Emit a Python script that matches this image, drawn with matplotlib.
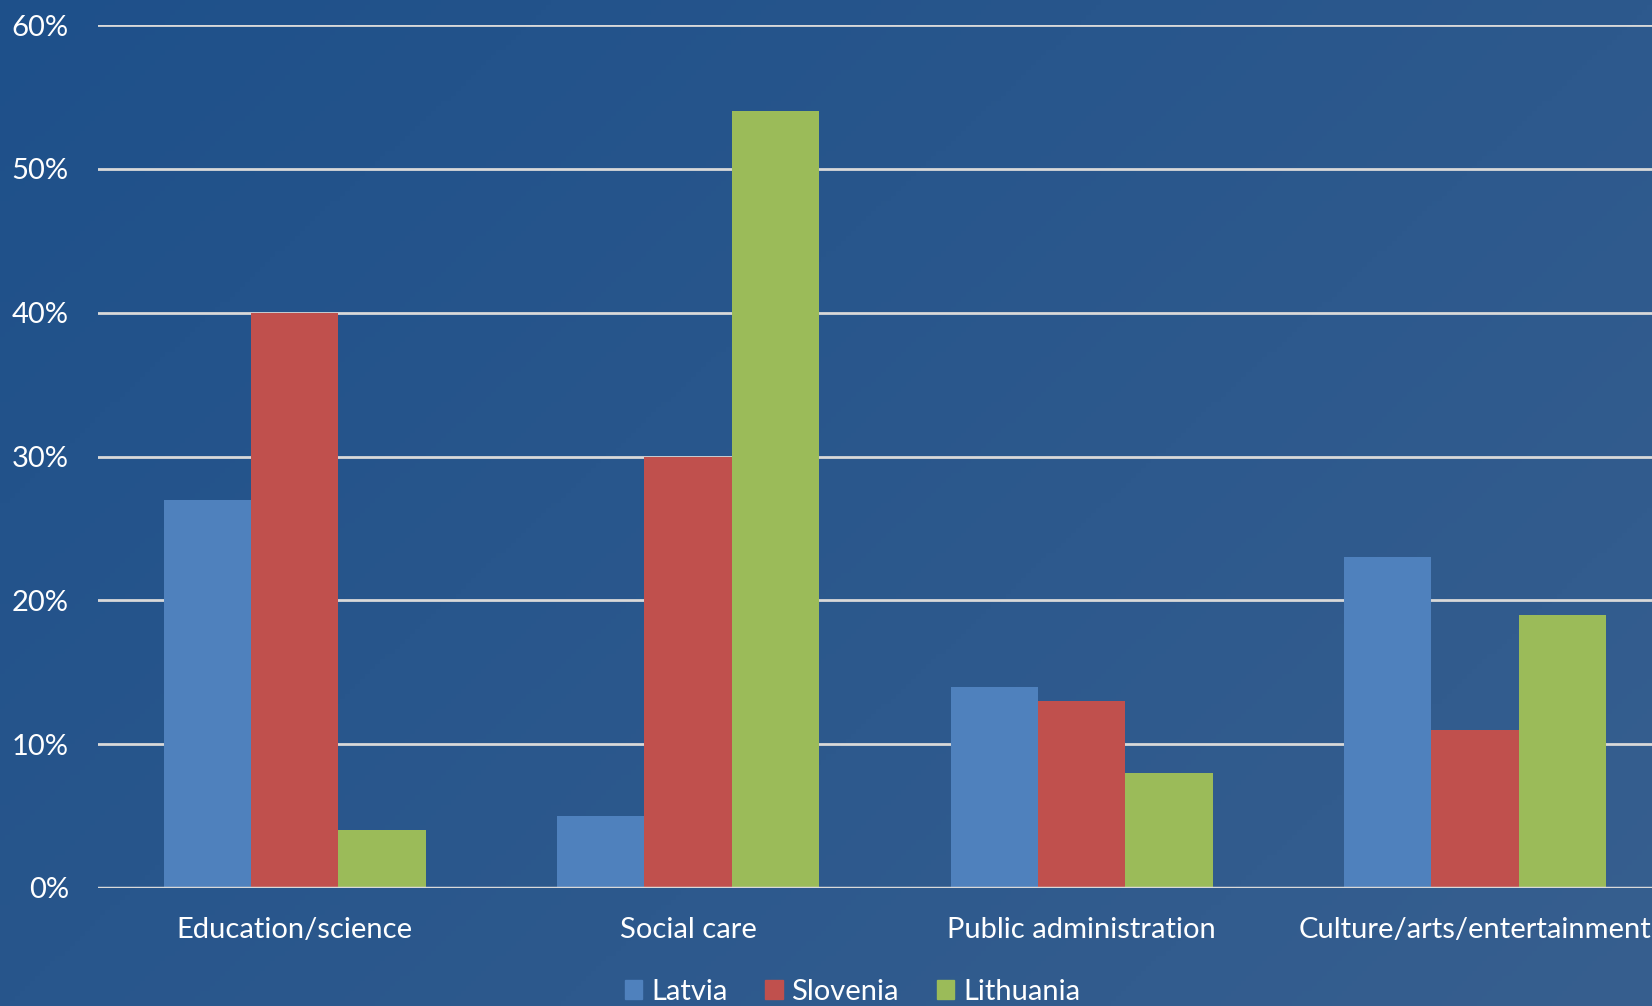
import numpy as np
import matplotlib.pyplot as plt
from matplotlib.patches import Patch

# survey shares by sector
categories = ['Education/science', 'Social care', 'Public administration', 'Culture/arts/entertainment']
series = ['Latvia', 'Slovenia', 'Lithuania']
latvia = [27, 5, 14, 23]
slovenia = [40, 30, 13, 11]
lithuania = [4, 54, 8, 19]
colors = ['#4F81BD', '#C0504D', '#9BBB59']
yticks = [0, 10, 20, 30, 40, 50, 60]

plt.rcParams['font.family'] = ['Lato', 'DejaVu Sans']

fig = plt.figure(figsize=(16.52, 10.06), dpi=100)

# diagonal blue gradient behind everything
bg = fig.add_axes([0, 0, 1, 1], zorder=-10)
h, w = 200, 330
yy, xx = np.mgrid[0:h, 0:w]
t = (xx / w * 0.6 + yy / h * 0.4)
c0 = np.array([30, 80, 138]) / 255
c1 = np.array([55, 95, 143]) / 255
img = c0[None, None, :] * (1 - t[..., None]) + c1[None, None, :] * t[..., None]
bg.imshow(img, aspect='auto', extent=[0, 1, 0, 1], origin='upper')
bg.axis('off')

ax = fig.add_axes([98 / 1652, 1 - 888 / 1006, 1 - 98 / 1652, (888 - 25) / 1006])
ax.patch.set_alpha(0)

x = np.arange(len(categories))
width = 0.222
for i, (name, vals) in enumerate(zip(series, [latvia, slovenia, lithuania])):
    ax.bar(x + (i - 1) * width, vals, width=width, color=colors[i], label=name, zorder=3)

ax.set_xlim(-0.5, 3.45)
ax.set_ylim(0, 60)
ax.set_yticks(yticks)
ax.set_yticklabels([f'{v}%' for v in yticks])
ax.yaxis.grid(True, color='#D9D9D9', linewidth=2, zorder=1)
ax.set_axisbelow(True)
for s in ax.spines.values():
    s.set_visible(False)
ax.axhline(0, color='#D9D9D9', linewidth=2.5, zorder=4)

ax.tick_params(axis='y', length=0, pad=21, labelsize=21, labelcolor='white')
ax.set_xticks(x)
ax.set_xticklabels(categories)
ax.tick_params(axis='x', length=0, pad=21, labelsize=21, labelcolor='white')

handles = [Patch(color=c, label=n) for c, n in zip(colors, series)]
leg = fig.legend(handles=handles, loc='center', bbox_to_anchor=(0.516, 1 - 992 / 1006), ncol=3,
                 frameon=False, fontsize=21, handlelength=0.6, handleheight=0.6,
                 handletextpad=0.3, columnspacing=1.3, labelcolor='white')

fig.savefig('out.png', dpi=100)
